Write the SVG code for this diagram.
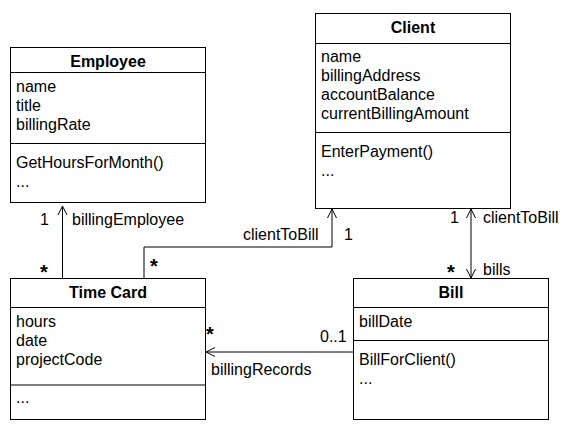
<svg xmlns="http://www.w3.org/2000/svg" width="568" height="430" viewBox="0 0 568 430">
<style>
text{font-family:"Liberation Sans",Arial,sans-serif;font-size:16px;fill:#000}
.t{font-weight:bold;text-anchor:middle}
.star{font-weight:bold;font-size:20px}
.box{fill:#fff;stroke:#000;stroke-width:1}
.ln{stroke:#000;stroke-width:1;fill:none}
</style>
<defs>
<marker id="open" viewBox="0 0 12 12" refX="11" refY="6" markerWidth="12" markerHeight="12" markerUnits="userSpaceOnUse" orient="auto-start-reverse">
<path d="M2,1.5 L11,6 L2,10.5" fill="none" stroke="#000" stroke-width="1"/>
</marker>
</defs>
<g id="employee">
<rect class="box" x="10.5" y="47.5" width="195" height="155"/>
<line class="ln" x1="10.5" y1="72.5" x2="205.5" y2="72.5"/>
<line class="ln" x1="10.5" y1="143.5" x2="205.5" y2="143.5"/>
<text class="t" x="108" y="67">Employee</text>
<text x="16" y="92">name</text>
<text x="16" y="111">title</text>
<text x="16" y="130">billingRate</text>
<text x="16" y="168">GetHoursForMonth()</text>
<text x="16" y="187">...</text>
</g>
<g id="client">
<rect class="box" x="315.5" y="13.5" width="195" height="195"/>
<line class="ln" x1="315.5" y1="43.5" x2="510.5" y2="43.5"/>
<line class="ln" x1="315.5" y1="132.5" x2="510.5" y2="132.5"/>
<text class="t" x="413" y="33">Client</text>
<text x="321" y="62">name</text>
<text x="321" y="81">billingAddress</text>
<text x="321" y="100">accountBalance</text>
<text x="321" y="119">currentBillingAmount</text>
<text x="321" y="157">EnterPayment()</text>
<text x="321" y="176">...</text>
</g>
<g id="timecard">
<rect class="box" x="10.5" y="278.5" width="195" height="141"/>
<line class="ln" x1="10.5" y1="307.5" x2="205.5" y2="307.5"/>
<line class="ln" x1="10.5" y1="385" x2="205.5" y2="385"/>
<text class="t" x="108" y="298">Time Card</text>
<text x="16" y="327">hours</text>
<text x="16" y="346">date</text>
<text x="16" y="365">projectCode</text>
<text x="16" y="403">...</text>
</g>
<g id="bill">
<rect class="box" x="353.5" y="278.5" width="195" height="141"/>
<line class="ln" x1="353.5" y1="307.5" x2="548.5" y2="307.5"/>
<line class="ln" x1="353.5" y1="340.5" x2="548.5" y2="340.5"/>
<text class="t" x="451" y="298">Bill</text>
<text x="359" y="327">billDate</text>
<text x="359" y="365">BillForClient()</text>
<text x="359" y="384">...</text>
</g>
<g id="connectors">
<line class="ln" x1="62.5" y1="279" x2="62.5" y2="206" marker-end="url(#open)"/>
<polyline class="ln" points="144,279 144,247 332,247 332,209" marker-end="url(#open)"/>
<line class="ln" x1="471" y1="209" x2="471" y2="278" marker-start="url(#open)" marker-end="url(#open)"/>
<line class="ln" x1="353" y1="352" x2="206" y2="352" marker-end="url(#open)"/>
<text x="40" y="225">1</text>
<text x="72" y="225">billingEmployee</text>
<text class="star" x="40" y="279">*</text>
<text class="star" x="150" y="273">*</text>
<text x="243" y="240">clientToBill</text>
<text x="344" y="240">1</text>
<text x="450" y="223">1</text>
<text x="483" y="223">clientToBill</text>
<text class="star" x="447" y="279">*</text>
<text x="483" y="275">bills</text>
<text class="star" x="206" y="341">*</text>
<text x="320" y="342">0..1</text>
<text x="211" y="375">billingRecords</text>
</g>
</svg>
